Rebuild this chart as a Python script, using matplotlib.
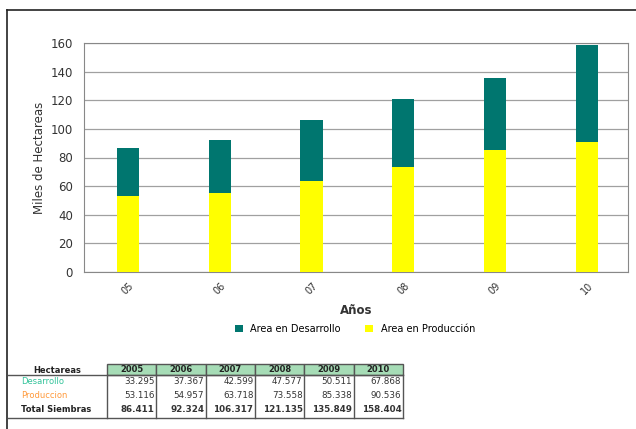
import matplotlib.pyplot as plt
from matplotlib.patches import Rectangle
from matplotlib.lines import Line2D

# datos
anios = ['05', '06', '07', '08', '09', '10']
anios_tabla = ['2005', '2006', '2007', '2008', '2009', '2010']
desarrollo = [33.295, 37.367, 42.599, 47.577, 50.511, 67.868]
produccion = [53.116, 54.957, 63.718, 73.558, 85.338, 90.536]
total = [86.411, 92.324, 106.317, 121.135, 135.849, 158.404]

verde = '#00766f'
amarillo = '#ffff00'

W, H = 636, 429
fig = plt.figure(figsize=(W / 100, H / 100), dpi=100)
fig.patch.set_facecolor('white')

# marco exterior
fig.add_artist(Line2D([7 / W, 7 / W], [0, 1 - 10 / H], color='#222222', lw=1.2))
fig.add_artist(Line2D([7 / W, 1], [1 - 10 / H, 1 - 10 / H], color='#222222', lw=1.2))

# grafico
ax = fig.add_axes([84 / W, 1 - 272 / H, (628 - 84) / W, (272 - 43) / H])
x = list(range(len(anios)))
ax.bar(x, produccion, width=0.24, color=amarillo, label='Area en Producción', zorder=3)
ax.bar(x, desarrollo, width=0.24, bottom=produccion, color=verde,
       label='Area en Desarrollo', zorder=3)
ax.set_ylim(0, 160)
ax.set_yticks(range(0, 161, 20))
ax.set_xlim(-0.48, 5.45)
ax.set_xticks(x)
ax.set_xticklabels(anios, rotation=45, fontsize=7, color='#333333')
ax.tick_params(axis='y', labelsize=8.5, colors='#333333', length=0, pad=8)
ax.tick_params(axis='x', length=0, pad=6)
ax.grid(axis='y', color='#a0a0a0', lw=0.9, zorder=0)
for s in ax.spines.values():
    s.set_color('#888888')
ax.set_ylabel('Miles de Hectareas', fontsize=8.5, color='#333333', labelpad=3)
ax.set_xlabel('Años', fontsize=8.5, fontweight='bold', color='#333333', labelpad=6)

h, l = ax.get_legend_handles_labels()
fig.legend(h[::-1], l[::-1], loc='center', bbox_to_anchor=(355 / W, 1 - 329 / H),
           ncol=2, frameon=False, fontsize=7, handlelength=0.8, handleheight=0.8,
           columnspacing=2.5, handletextpad=0.8)

# tabla
def fx(px):
    return px / W

def fy(py):
    return 1 - py / H

col0, col1, cw = 8, 107, 49.3
top, hbot, bot = 364, 375, 418
rows_y = [382, 396, 410]

for i, a in enumerate(anios_tabla):
    x0 = col1 + i * cw
    fig.add_artist(Rectangle((fx(x0), fy(hbot)), cw / W, (hbot - top) / H,
                             facecolor='#a6dcb6', edgecolor='#555555', lw=1))
    fig.text(fx(x0 + cw / 2), fy((top + hbot) / 2), a, ha='center', va='center',
             fontsize=6, fontweight='bold', color='#222222')

x_end = col1 + 6 * cw
fig.add_artist(Line2D([fx(col0), fx(x_end)], [fy(hbot), fy(hbot)], color='#555555', lw=1))
fig.add_artist(Line2D([fx(col0), fx(x_end)], [fy(bot), fy(bot)], color='#555555', lw=1))
for i in range(7):
    xv = col1 + i * cw
    fig.add_artist(Line2D([fx(xv), fx(xv)], [fy(hbot), fy(bot)], color='#555555', lw=1))

fig.text(fx(57), fy((top + hbot) / 2 + 1), 'Hectareas', ha='center', va='center',
         fontsize=6, fontweight='bold', color='#222222')
etiquetas = ['Desarrollo', 'Produccion', 'Total Siembras']
colores = ['#33c39a', '#ff9a3c', '#222222']
pesos = ['normal', 'normal', 'bold']
filas = [desarrollo, produccion, total]
for r, (et, c, p, vals) in enumerate(zip(etiquetas, colores, pesos, filas)):
    fig.text(fx(21), fy(rows_y[r]), et, ha='left', va='center', fontsize=6,
             color=c, fontweight=p)
    for i, v in enumerate(vals):
        fig.text(fx(col1 + (i + 1) * cw - 1.5), fy(rows_y[r]), f'{v:.3f}',
                 ha='right', va='center', fontsize=6.3, color='#333333', fontweight=p)

fig.savefig('out.png', dpi=100)
